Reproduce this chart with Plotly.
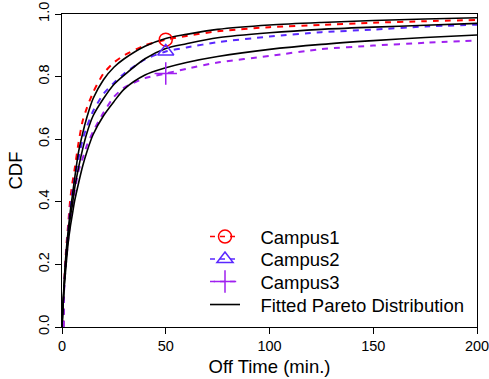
import plotly.graph_objects as go

# ---- data ----
fit_x = [0, 0.5, 1, 2, 3, 4, 5, 6, 8, 10, 12, 15, 20, 25, 30, 40, 50, 60, 75, 100, 125, 150, 175, 200]
fit1 = [0, 0.07, 0.14, 0.24, 0.31, 0.37, 0.42, 0.47, 0.56, 0.62, 0.67, 0.73, 0.79, 0.83, 0.857, 0.897, 0.922, 0.935, 0.951, 0.965, 0.973, 0.979, 0.984, 0.988]
fit2 = [0, 0.07, 0.13, 0.22, 0.29, 0.35, 0.39, 0.44, 0.51, 0.57, 0.62, 0.675, 0.73, 0.775, 0.805, 0.857, 0.89, 0.905, 0.924, 0.940, 0.951, 0.958, 0.964, 0.970]
fit3 = [0, 0.07, 0.12, 0.20, 0.27, 0.32, 0.36, 0.40, 0.46, 0.515, 0.56, 0.615, 0.675, 0.72, 0.76, 0.805, 0.828, 0.845, 0.864, 0.887, 0.903, 0.915, 0.925, 0.933]

emp_x = [0.7, 1, 2, 3, 4, 5, 6, 8, 10, 12, 15, 20, 25, 30, 40, 50, 60, 75, 100, 125, 150, 175, 200]
campus1 = [0, 0.13, 0.25, 0.33, 0.41, 0.46, 0.50, 0.59, 0.66, 0.70, 0.75, 0.81, 0.845, 0.868, 0.90, 0.918, 0.93, 0.945, 0.958, 0.965, 0.972, 0.977, 0.981]
campus2 = [0, 0.12, 0.23, 0.31, 0.38, 0.43, 0.47, 0.54, 0.60, 0.64, 0.69, 0.745, 0.78, 0.81, 0.855, 0.88, 0.893, 0.91, 0.928, 0.942, 0.95, 0.96, 0.966]
campus3 = [0, 0.12, 0.21, 0.28, 0.34, 0.39, 0.43, 0.50, 0.54, 0.58, 0.625, 0.685, 0.735, 0.765, 0.795, 0.81, 0.825, 0.845, 0.866, 0.888, 0.899, 0.908, 0.915]

names = ["Campus1", "Campus2", "Campus3"]
fit_name = "Fitted Pareto Distribution"
marker_x = 50
x_ticks = [0, 50, 100, 150, 200]
y_ticks = [0.0, 0.2, 0.4, 0.6, 0.8, 1.0]
y_ticktext = ["0.0", "0.2", "0.4", "0.6", "0.8", "1.0"]

colors = ["#FF0000", "#5A28FF", "#A020F0"]
symbols = ["circle-open", "triangle-up-open", "cross-thin-open"]
msizes = [13, 14, 16]
FONT = "Liberation Sans, Arial, sans-serif"
PAD = "\u00a0\u00a0\u00a0"

fig = go.Figure()
campuses = [campus1, campus2, campus3]
for ys, c in zip(campuses, colors):
    fig.add_trace(go.Scatter(x=emp_x, y=ys, mode="lines", showlegend=False,
                             line=dict(color=c, width=2, dash="6px,6px",
                                       shape="spline", smoothing=0.6)))
first = True
for fy in [fit1, fit2, fit3]:
    fig.add_trace(go.Scatter(x=fit_x, y=fy, mode="lines", name=PAD + fit_name,
                             showlegend=first, legend="legend4",
                             line=dict(color="black", width=1.6,
                                       shape="spline", smoothing=0.8)))
    first = False
legends = ["legend", "legend2", "legend3"]
for ys, c, s, ms, n, lg in zip(campuses, colors, symbols, msizes, names, legends):
    i = emp_x.index(marker_x)
    fig.add_trace(go.Scatter(x=[emp_x[i]], y=[ys[i]], mode="lines+markers", name=PAD + n,
                             legend=lg,
                             line=dict(color=c, width=1.5, dash="5px,5px"),
                             marker=dict(symbol=s, size=ms, color=c,
                                         line=dict(color=c, width=1.5))))

axis_common = dict(showline=True, mirror=True, linecolor="black", linewidth=1,
                   showgrid=False, zeroline=False, ticks="outside", ticklen=6,
                   automargin=False, ticklabeloverflow="allow",
                   tickcolor="black", tickfont=dict(family=FONT, size=14.5, color="black"))

W, H = 489, 379
L, R, T, B = 62, 12, 14, 52
lx = (205 - L) / (W - L - R)
row_px = [237, 259.5, 282, 305]
def py(p):
    return (H - B - p) / (H - B - T)

leg_common = dict(x=lx, xanchor="left", yanchor="middle",
                  bgcolor="rgba(0,0,0,0)", borderwidth=0,
                  font=dict(family=FONT, size=18.5, color="black"))

fig.update_layout(
    width=W, height=H,
    margin=dict(l=L, r=R, t=T, b=B, autoexpand=False),
    paper_bgcolor="white", plot_bgcolor="white",
    xaxis=dict(range=[0, 200], tickvals=x_ticks, **axis_common,
               title=dict(text="Off Time (min.)", standoff=6,
                          font=dict(family=FONT, size=18.5, color="black"))),
    yaxis=dict(range=[0, 1], tickvals=y_ticks, ticktext=y_ticktext, tickangle=-90,
               **axis_common,
               title=dict(text="CDF", standoff=8,
                          font=dict(family=FONT, size=18.5, color="black"))),
    legend=dict(y=py(row_px[0]), **leg_common),
    legend2=dict(y=py(row_px[1]), **leg_common),
    legend3=dict(y=py(row_px[2]), **leg_common),
    legend4=dict(y=py(row_px[3]), **leg_common),
)
fig.write_html("out.html")
